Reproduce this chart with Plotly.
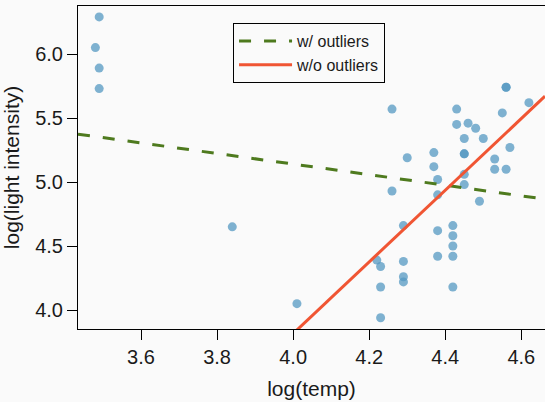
import numpy as np
import plotly.graph_objects as go

# starsCYG-like data
log_temp = [4.37, 4.56, 4.26, 4.56, 4.30, 4.46, 3.84, 4.57, 4.26, 4.37, 3.49, 4.43,
            4.48, 4.01, 4.29, 4.42, 4.23, 4.42, 4.23, 3.49, 4.29, 4.29, 4.42, 4.49,
            4.38, 4.42, 4.29, 4.38, 4.22, 3.48, 4.38, 4.56, 4.45, 3.49, 4.23, 4.62,
            4.53, 4.45, 4.53, 4.43, 4.38, 4.45, 4.50, 4.45, 4.55, 4.45, 4.42]
log_light = [5.23, 5.74, 4.93, 5.74, 5.19, 5.46, 4.65, 5.27, 5.57, 5.12, 5.73, 5.45,
             5.42, 4.05, 4.26, 4.58, 3.94, 4.18, 4.18, 5.89, 4.38, 4.22, 4.42, 4.85,
             5.02, 4.66, 4.66, 4.90, 4.39, 6.05, 4.42, 5.10, 5.22, 6.29, 4.34, 5.62,
             5.10, 5.22, 5.18, 5.57, 4.62, 5.06, 5.34, 5.34, 5.54, 4.98, 4.50]

# line fitted without the outliers (intercept, slope)
fit_no_outliers = [-7.384, 2.80]

x_ticks = [3.6, 3.8, 4.0, 4.2, 4.4, 4.6]
x_tick_labels = ["3.6", "3.8", "4.0", "4.2", "4.4", "4.6"]
y_ticks = [4.0, 4.5, 5.0, 5.5, 6.0]
y_tick_labels = ["4.0", "4.5", "5.0", "5.5", "6.0"]

x = np.array(log_temp)
y = np.array(log_light)
b_all = np.polyfit(x, y, 1)  # least squares with all points

x_range = [3.4343, 4.6623]
y_range = [3.852, 6.375]
xl = np.array(x_range)

fig = go.Figure()
fig.add_trace(go.Scatter(
    x=log_temp, y=log_light, mode="markers",
    marker=dict(size=9, color="rgba(84,152,194,0.75)", line=dict(width=0)),
    showlegend=False))
fig.add_trace(go.Scatter(
    x=xl, y=np.polyval(b_all, xl), mode="lines", name="w/ outliers",
    line=dict(color="#4E7A1E", width=3, dash="12px,13px")))
fig.add_trace(go.Scatter(
    x=xl, y=fit_no_outliers[0] + fit_no_outliers[1] * xl, mode="lines", name="w/o outliers",
    line=dict(color="#F05533", width=3)))

fam = "Liberation Sans, Arial, sans-serif"
fig.update_layout(
    width=545, height=402,
    margin=dict(l=78, r=0, t=6, b=73, autoexpand=False),
    paper_bgcolor="#fafafa", plot_bgcolor="#fafafa",
    font=dict(family=fam, size=20, color="#1a1a1a"),
    legend=dict(x=0.332, y=0.947, xanchor="left", yanchor="top",
                bordercolor="black", borderwidth=1, bgcolor="#fafafa",
                font=dict(family=fam, size=16, color="#1a1a1a"),
                itemwidth=53, tracegroupgap=0),
    xaxis=dict(range=x_range, showgrid=False, zeroline=False, automargin=False,
               showline=True, linecolor="black", linewidth=1, mirror=True,
               ticks="outside", ticklen=10, tickcolor="black",
               tickvals=x_ticks, ticktext=x_tick_labels,
               tickfont=dict(size=20),
               title=dict(text="log(temp)", standoff=14, font=dict(size=21))),
    yaxis=dict(range=y_range, showgrid=False, zeroline=False, automargin=False,
               showline=True, linecolor="black", linewidth=1,
               ticks="outside", ticklen=10, tickcolor="black",
               tickvals=y_ticks, ticktext=y_tick_labels,
               tickfont=dict(size=20),
               title=dict(text="log(light intensity)", standoff=15, font=dict(size=21))),
)
fig.write_html(
    "out.html",
    config={"displayModeBar": False},
    post_script="document.body.style.margin='0';"
                "document.body.style.overflow='hidden';"
                "document.documentElement.style.overflow='hidden';",
)
